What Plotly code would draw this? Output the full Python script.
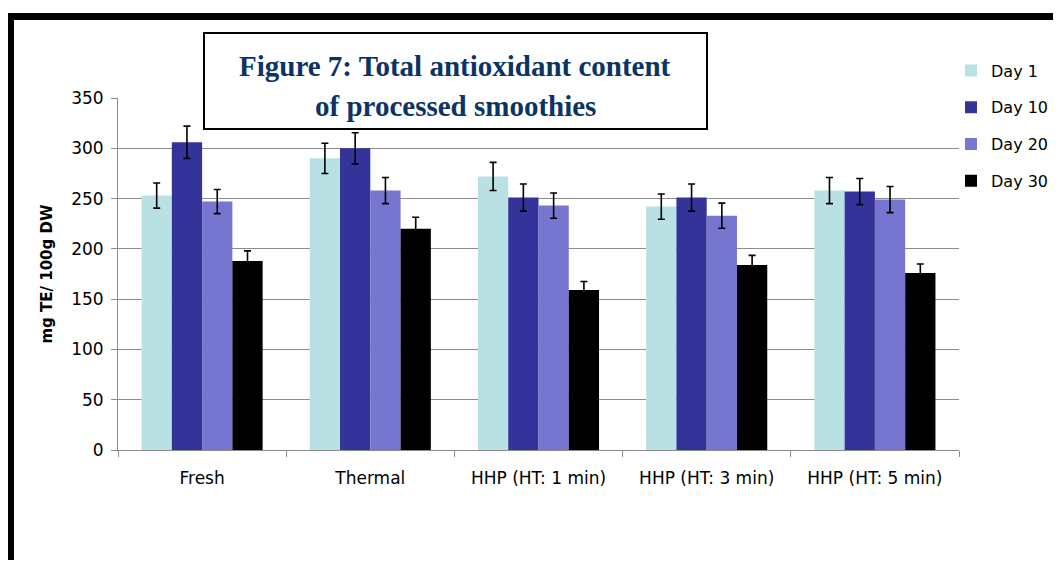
import plotly.graph_objects as go

categories = ["Fresh", "Thermal", "HHP (HT: 1 min)", "HHP (HT: 3 min)", "HHP (HT: 5 min)"]
series_names = ["Day 1", "Day 10", "Day 20", "Day 30"]
day1 = [253, 290, 272, 242, 258]
day10 = [306, 300, 251, 251, 257]
day20 = [247, 258, 243, 233, 249]
day30 = [188, 220, 159, 184, 176]
err1 = [12.5, 15, 14, 12.5, 13]
err10 = [16, 15.5, 13.5, 13.5, 13]
err20 = [12, 13, 12.5, 12.5, 13]
err30 = [10, 11.5, 8.5, 9.5, 9]
colors = ["#B9E0E3", "#333399", "#7676D0", "#000000"]
y_ticks = [0, 50, 100, 150, 200, 250, 300, 350]

values = [day1, day10, day20, day30]
errors = [err1, err10, err20, err30]

# page body has an 8px margin; size the figure so the page exactly fills the window
OFF = 8
W, H = 1061 - 2 * OFF, 568 - 2 * OFF
L, R, T, B = 118, 959, 98, 450  # plot area in window pixels


def px(x):
    return (x - L) / (R - L)


def py(y):
    return (B - y) / (B - T)


def cx(x):  # container fraction from window pixel
    return (x - OFF) / W


def cy(y):
    return 1 - (y - OFF) / H


fig = go.Figure()
for name, vals, errs, col in zip(series_names, values, errors, colors):
    fig.add_trace(go.Bar(
        x=categories, y=vals, name=name, legendgroup=name,
        marker=dict(color=col, line=dict(width=0)),
        error_y=dict(type="data", array=errs, visible=True,
                     color="#000000", thickness=1.6, width=3.5),
    ))

grid = "#8C8C8C"
fig.update_layout(
    width=W, height=H, autosize=False,
    margin=dict(l=L - OFF, r=W + OFF - R, t=T - OFF, b=H + OFF - B, pad=0,
                autoexpand=False),
    paper_bgcolor="white", plot_bgcolor="white",
    barmode="group", bargap=0.28, bargroupgap=0,
    font=dict(family="DejaVu Sans", size=17, color="#000000"),
    showlegend=True,
    legend=dict(xref="container", yref="container", x=cx(951), y=cy(53.5),
                xanchor="left", yanchor="top",
                font=dict(family="DejaVu Sans", size=16, color="#000000"),
                tracegroupgap=13, itemwidth=30, bgcolor="rgba(0,0,0,0)",
                traceorder="grouped"),
    xaxis=dict(showgrid=False, showline=True, linecolor=grid, linewidth=1,
               ticks="outside", tickson="boundaries", ticklen=6, tickcolor=grid,
               ticklabelstandoff=13, tickfont=dict(size=17), automargin=False),
    yaxis=dict(range=[0, 350], tickvals=y_ticks, showgrid=True, gridcolor=grid,
               gridwidth=1, showline=True, linecolor=grid, linewidth=1,
               ticks="outside", ticklen=6, tickcolor=grid, zeroline=False,
               ticklabelstandoff=4, tickfont=dict(size=17), automargin=False,
               title=dict(text="<b>mg TE/ 100g DW</b>", standoff=14,
                          font=dict(family="DejaVu Sans", size=15))),
)

# title box
fig.add_shape(type="rect", xref="paper", yref="paper",
              x0=px(204), x1=px(707), y0=py(129), y1=py(33),
              line=dict(color="black", width=2), fillcolor="white", layer="above")
fig.add_annotation(xref="paper", yref="paper", x=px(455), y=py(66),
                   text="<b>Figure 7: Total antioxidant content</b>",
                   showarrow=False, xanchor="center", yanchor="middle",
                   font=dict(family="Liberation Serif", size=29, color="#0B3366"))
fig.add_annotation(xref="paper", yref="paper", x=px(455), y=py(106),
                   text="<b>of processed smoothies</b>",
                   showarrow=False, xanchor="center", yanchor="middle",
                   font=dict(family="Liberation Serif", size=29, color="#0B3366"))

# page frame (top and left black bands)
fig.add_shape(type="rect", xref="paper", yref="paper",
              x0=px(7), x1=px(1070), y0=py(20), y1=py(13),
              line=dict(width=0), fillcolor="black", layer="above")
fig.add_shape(type="rect", xref="paper", yref="paper",
              x0=px(7), x1=px(14), y0=py(580), y1=py(13),
              line=dict(width=0), fillcolor="black", layer="above")

fig.write_html("out.html")
